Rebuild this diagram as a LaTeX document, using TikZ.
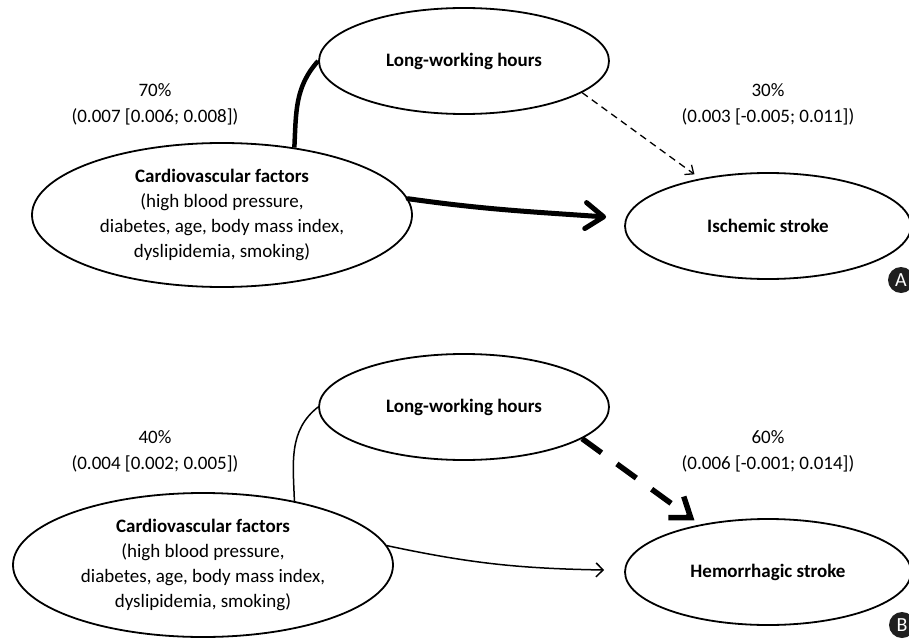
\documentclass[tikz,border=0pt]{standalone}
\usepackage{fontspec}
\setmainfont{Carlito}
\usetikzlibrary{arrows.meta,calc,shapes.geometric}
\begin{document}
\begin{tikzpicture}[x=1pt,y=1pt,
  txt/.style={font=\fontsize{19}{25}\selectfont, align=center, inner sep=0pt},
  oval/.style={draw, ellipse, line width=1.8pt, inner sep=0pt, align=center, font=\fontsize{19}{25}\selectfont},
  lwh/.style={oval, minimum width=290pt, minimum height=106pt, font=\fontsize{19}{25}\selectfont\bfseries},
  cvf/.style={oval, minimum width=380pt, minimum height=144pt},
  stroke/.style={oval, minimum width=286pt, minimum height=106pt, font=\fontsize{19}{25}\selectfont\bfseries},
  pct/.style={txt, font=\fontsize{19}{26}\selectfont},
  badge/.style={circle, fill=black!88, minimum size=26pt, inner sep=0pt, text=white, font=\fontsize{20}{20}\selectfont},
  thickarrow/.style={line width=5pt, line cap=round, -{Straight Barb[length=18pt,width=26pt,round]}},
  thinarrow/.style={line width=1.5pt, -{Straight Barb[length=7pt,width=14pt]}},
]
\useasboundingbox (0,0) rectangle (909,-639);

% ---------- Panel A ----------
\node[lwh] (lwA) at (464,-61) {Long-working hours};
\node[cvf] (cvA) at (222,-215) {{\bfseries Cardiovascular factors}\\(high blood pressure,\\diabetes, age, body mass index,\\dyslipidemia, smoking)};
\node[stroke] (isA) at (768,-226) {Ischemic stroke};

\node[pct] (pA1) at (155,-104) {70\%\\(0.007 [0.006; 0.008])};
\node[pct] (pA2) at (768,-104) {30\%\\(0.003 [-0.005; 0.011])};

\coordinate (tipA) at ($(isA.west)+(-18,9)$);
\draw[line width=4.5pt] (cvA.43) to[out=87,in=228] (lwA.180);
\draw[thickarrow] (cvA.5) to[out=-8,in=176] (tipA);
\draw[line width=1.3pt, dash pattern=on 7pt off 5pt, shorten >=7pt,
      -{Straight Barb[length=7pt,width=12pt]}] (lwA.-15) -- (isA.145);

\node[badge] (bA) at (901,-280) {A};

% ---------- Panel B ----------
\node[lwh] (lwB) at (464,-407) {Long-working hours};
\node[cvf] (cvB) at (203,-565) {{\bfseries Cardiovascular factors}\\(high blood pressure,\\diabetes, age, body mass index,\\dyslipidemia, smoking)};
\node[stroke] (hsB) at (768,-572) {Hemorrhagic stroke};

\node[pct] (pB1) at (155,-451) {40\%\\(0.004 [0.002; 0.005])};
\node[pct] (pB2) at (768,-451) {60\%\\(0.006 [-0.001; 0.014])};

\coordinate (tipB) at ($(hsB.west)+(-20,2)$);
\draw[line width=1.5pt] (cvB.35) to[out=92,in=218] (lwB.180);
\draw[thinarrow] (cvB.6) to[out=-12,in=179] (tipB);
\draw[line width=5.5pt, dash pattern=on 24pt off 19pt, shorten >=7pt,
      -{Straight Barb[length=18pt,width=26pt]}] (lwB.-15) -- (hsB.145);

\node[badge] (bB) at (902,-625) {B};
\end{tikzpicture}
\end{document}
